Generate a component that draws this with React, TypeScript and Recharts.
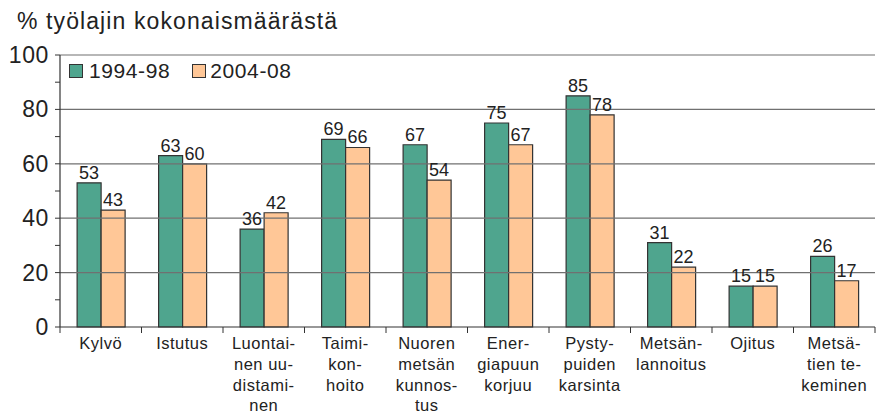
import React from "react";
import {
  BarChart,
  Bar,
  XAxis,
  YAxis,
  ReferenceLine,
  LabelList,
} from "recharts";

const categories = [
  "Kylvö",
  "Istutus",
  "Luontai-\nnen uu-\ndistami-\nnen",
  "Taimi-\nkon-\nhoito",
  "Nuoren\nmetsän\nkunnos-\ntus",
  "Ener-\ngiapuun\nkorjuu",
  "Pysty-\npuiden\nkarsinta",
  "Metsän-\nlannoitus",
  "Ojitus",
  "Metsä-\ntien te-\nkeminen",
];
const period1 = [53, 63, 36, 69, 67, 75, 85, 31, 15, 26];
const period2 = [43, 60, 42, 66, 54, 67, 78, 22, 15, 17];
const yTicks = [0, 10, 20, 30, 40, 50, 60, 70, 80, 90, 100];
const gridValues = [20, 40, 60, 80, 100];

const data = categories.map((name, i) => ({
  name,
  p1: period1[i],
  p2: period2[i],
}));

const GREEN = "#4fa58e";
const ORANGE = "#ffc797";
const STROKE = "#333333";
const TEXT = "#222222";
const FONT = "'Liberation Sans', Arial, sans-serif";

const BAND = 81.5;

const YTick = (props: any) => {
  const { x, y, payload } = props;
  if (payload.value % 20 !== 0) return null;
  return (
    <text
      x={x - 4}
      y={y}
      dy={8}
      textAnchor="end"
      fontSize={23}
      fontFamily={FONT}
      fill={TEXT}
      letterSpacing={0.6}
    >
      {payload.value}
    </text>
  );
};

const XTick = (props: any) => {
  const { x, y, payload, index } = props;
  const lines = String(payload.value).split("\n");
  return (
    <g>
      {index === 0 && (
        <line x1={x - BAND / 2} x2={x - BAND / 2} y1={y - 8} y2={y - 2} stroke={STROKE} />
      )}
      <line x1={x + BAND / 2} x2={x + BAND / 2} y1={y - 8} y2={y - 2} stroke={STROKE} />
      <text
        x={x}
        y={y}
        textAnchor="middle"
        fontSize={16.5}
        fontFamily={FONT}
        fill={TEXT}
        letterSpacing={0.5}
      >
        {lines.map((l, i) => (
          <tspan key={i} x={x} dy={i === 0 ? 14 : 20.8}>
            {l}
          </tspan>
        ))}
      </text>
    </g>
  );
};

const LegendBox = () => (
  <div
    style={{
      position: "absolute",
      left: 69,
      top: 59,
      display: "flex",
      alignItems: "center",
      fontFamily: FONT,
      fontSize: 21,
      letterSpacing: 0.6,
      color: TEXT,
      lineHeight: "24px",
    }}
  >
    <span
      style={{
        width: 12,
        height: 12,
        background: GREEN,
        border: `1px solid ${STROKE}`,
        marginRight: 6,
      }}
    />
    <span style={{ marginRight: 22 }}>1994-98</span>
    <span
      style={{
        width: 12,
        height: 12,
        background: ORANGE,
        border: `1px solid ${STROKE}`,
        marginRight: 4,
      }}
    />
    <span>2004-08</span>
  </div>
);

export default function App() {
  return (
    <div style={{ position: "absolute", left: 0, top: 0, width: 880, height: 415, background: "#fff" }}>
      <div
        style={{
          position: "absolute",
          left: 17,
          top: 8,
          fontFamily: FONT,
          fontSize: 23,
          letterSpacing: 1.1,
          color: TEXT,
          whiteSpace: "nowrap",
        }}
      >
        % työlajin kokonaismäärästä
      </div>
      <BarChart
        width={880}
        height={415}
        data={data}
        margin={{ top: 55, right: 5, left: 0, bottom: 0 }}
        barCategoryGap="21%"
        barGap={0}
      >
        {gridValues.map((v) => (
          <ReferenceLine key={v} y={v} stroke="#707070" strokeWidth={1.2} />
        ))}
        <XAxis
          dataKey="name"
          interval={0}
          height={88}
          tick={<XTick />}
          tickLine={false}
          axisLine={{ stroke: STROKE, strokeWidth: 1.2 }}
        />
        <YAxis
          domain={[0, 100]}
          ticks={yTicks}
          interval={0}
          width={60}
          tick={<YTick />}
          tickSize={5}
          tickLine={{ stroke: STROKE }}
          axisLine={{ stroke: STROKE, strokeWidth: 1.2 }}
        />
        <Bar dataKey="p1" fill={GREEN} stroke={STROKE} strokeWidth={1.2} isAnimationActive={false}>
          <LabelList dataKey="p1" position="top" offset={4} fontSize={18} fontFamily={FONT} fill={TEXT} />
        </Bar>
        <Bar dataKey="p2" fill={ORANGE} stroke={STROKE} strokeWidth={1.2} isAnimationActive={false}>
          <LabelList dataKey="p2" position="top" offset={4} fontSize={18} fontFamily={FONT} fill={TEXT} />
        </Bar>
      </BarChart>
      <LegendBox />
    </div>
  );
}
